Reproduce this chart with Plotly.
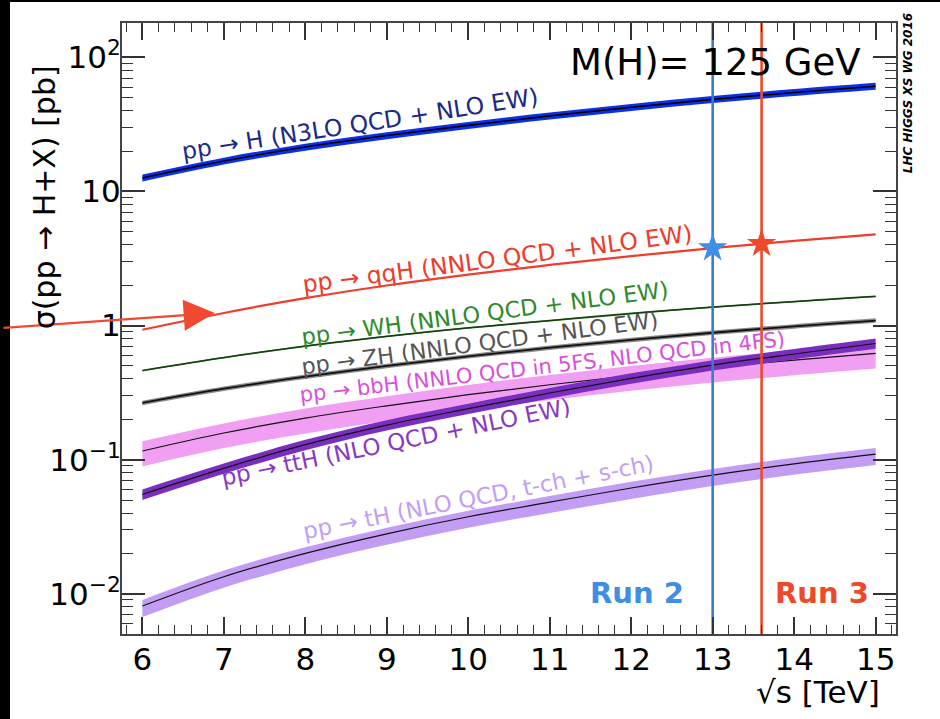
import plotly.graph_objects as go

# ---------------- data ----------------
sqrt_s = [6, 7, 8, 9, 10, 11, 12, 13, 14, 15]

ggH    = [12.6, 16.85, 21.42, 26.1, 31.1, 36.6, 42.4, 48.58, 54.67, 60.9]
ggH_lo = [11.85, 15.85, 20.15, 24.55, 29.25, 34.4, 39.85, 45.65, 51.4, 57.25]
ggH_hi = [13.35, 17.85, 22.70, 27.65, 32.95, 38.8, 44.95, 51.5, 57.95, 64.55]

qqH = [0.93, 1.241, 1.601, 1.99, 2.40, 2.83, 3.29, 3.782, 4.278, 4.79]

WH    = [0.462, 0.577, 0.703, 0.83, 0.96, 1.09, 1.23, 1.373, 1.51, 1.65]
WH_lo = [0.455, 0.568, 0.692, 0.817, 0.945, 1.073, 1.211, 1.352, 1.487, 1.625]
WH_hi = [0.469, 0.586, 0.714, 0.843, 0.975, 1.107, 1.249, 1.394, 1.533, 1.675]

ZH    = [0.265, 0.3381, 0.4153, 0.50, 0.59, 0.685, 0.782, 0.8839, 0.9861, 1.09]
ZH_lo = [0.255, 0.325, 0.399, 0.480, 0.567, 0.658, 0.751, 0.849, 0.947, 1.047]
ZH_hi = [0.275, 0.351, 0.431, 0.519, 0.612, 0.711, 0.812, 0.918, 1.024, 1.132]

bbH    = [0.116, 0.158, 0.204, 0.252, 0.305, 0.362, 0.423, 0.488, 0.553, 0.62]
bbH_lo = [0.089, 0.122, 0.157, 0.194, 0.235, 0.279, 0.326, 0.376, 0.426, 0.478]
bbH_hi = [0.137, 0.186, 0.241, 0.297, 0.360, 0.427, 0.499, 0.576, 0.652, 0.730]

ttH    = [0.055, 0.0861, 0.1293, 0.181, 0.240, 0.314, 0.404, 0.5071, 0.6137, 0.735]
ttH_lo = [0.050, 0.0784, 0.1177, 0.165, 0.219, 0.286, 0.368, 0.462, 0.559, 0.670]
ttH_hi = [0.060, 0.0935, 0.1405, 0.197, 0.261, 0.342, 0.440, 0.552, 0.668, 0.800]

tH    = [0.0081, 0.0134, 0.0200, 0.0280, 0.0375, 0.0482, 0.0615, 0.0767, 0.0930, 0.110]
tH_lo = [0.0067, 0.0111, 0.0166, 0.0232, 0.0311, 0.0400, 0.0510, 0.0637, 0.0772, 0.0913]
tH_hi = [0.0090, 0.0149, 0.0222, 0.0311, 0.0416, 0.0535, 0.0683, 0.0851, 0.1032, 0.1220]

run_energies = [13.0, 13.6]
run_qqH = [3.782, 4.08]
run_names = ["Run 2", "Run 3"]
run_label_x = [12.07, 14.34]
run_colors = ["#3d8ee4", "#ee4a2a"]
run_line_colors = ["#3a7bcc", "#ee4a2a"]

y_tickvals = [0.01, 0.1, 1, 10, 100]
y_ticktext = ["10<sup>\u22122</sup>", "10<sup>\u22121</sup>", "1", "10", "10<sup>2</sup>"]

x_range = [5.75, 15.25]
y_range_log = [-2.30, 2.256]

# text, x, log10(y), angle, colour, font size
labels = [
    ("pp \u2192 H (N3LO QCD + NLO EW)", 8.671, 1.503, -8.8, "#1a2a88", 23.5),
    ("pp \u2192 qqH (NNLO QCD + NLO EW)", 10.353, 0.496, -7.5, "#ee3b2b", 23.5),
    ("pp \u2192 WH (NNLO QCD + NLO EW)", 10.206, 0.093, -7.4, "#2e8a2a", 22.5),
    ("pp \u2192 ZH (NNLO QCD + NLO EW)", 10.144, -0.130, -7.5, "#555555", 22.3),
    ("pp \u2192 bbH (NNLO QCD in 5FS, NLO QCD in 4FS)", 10.905, -0.309, -6.6, "#d94fdc", 21),
    ("pp \u2192 ttH (NLO QCD + NLO EW)", 9.113, -0.869, -11.6, "#8a38c4", 23),
    ("pp \u2192 tH (NLO QCD, t-ch + s-ch)", 10.120, -1.279, -11.1, "#c49ef4", 22.7),
]

FONT = "DejaVu Sans"

# ---------------- figure ----------------
fig = go.Figure()


def band(lo, hi, color):
    fig.add_trace(go.Scatter(x=sqrt_s, y=lo, mode="lines", line=dict(width=0, shape="spline", color=color),
                             showlegend=False, hoverinfo="skip"))
    fig.add_trace(go.Scatter(x=sqrt_s, y=hi, mode="lines", line=dict(width=0, shape="spline", color=color),
                             fill="tonexty", fillcolor=color, showlegend=False, hoverinfo="skip"))


def line(y, color, width):
    fig.add_trace(go.Scatter(x=sqrt_s, y=y, mode="lines", line=dict(width=width, shape="spline", color=color),
                             showlegend=False, hoverinfo="skip"))


band(tH_lo, tH_hi, "#c39cf3")
line(tH, "#111111", 1.2)
band(bbH_lo, bbH_hi, "#f09ff2")
line(bbH, "#111111", 1.2)
band(ttH_lo, ttH_hi, "#7a2ec0")
line(ttH, "#111111", 1.2)
band(ZH_lo, ZH_hi, "#8a8a8a")
line(ZH, "#111111", 1.8)
band(WH_lo, WH_hi, "#2d6a22")
line(WH, "#143d10", 1.2)
line(qqH, "#f03c2c", 2.2)
band(ggH_lo, ggH_hi, "#0a30ea")
line(ggH, "#000000", 1.6)

# vertical run lines
y_lo_val = 10 ** y_range_log[0]
y_hi_val = 10 ** y_range_log[1]
for e, c in zip(run_energies, run_line_colors):
    fig.add_trace(go.Scatter(x=[e, e], y=[y_lo_val, y_hi_val], mode="lines",
                             line=dict(color=c, width=2.6), showlegend=False, hoverinfo="skip"))

# stars
for e, v, c in zip(run_energies, run_qqH, run_colors):
    fig.add_trace(go.Scatter(x=[e], y=[v], mode="markers",
                             marker=dict(symbol="star", size=22, color=c, line=dict(width=0)),
                             showlegend=False, hoverinfo="skip", cliponaxis=False))

# curve labels
for text, lx, ly, ang, col, fs in labels:
    fig.add_annotation(x=lx, y=ly, xref="x", yref="y", text=text, showarrow=False,
                       textangle=ang, font=dict(family=FONT, size=fs, color=col),
                       xanchor="center", yanchor="middle")

# run labels
for name, col, xpos in zip(run_names, run_colors, run_label_x):
    fig.add_annotation(x=xpos, y=-1.995, xref="x", yref="y", text="<b>" + name + "</b>",
                       showarrow=False, font=dict(family=FONT, size=29, color=col),
                       xanchor="center", yanchor="middle")

# red arrow entering from the left
fig.add_annotation(x=6.89, y=0.093, xref="x", yref="y", ax=-215, ay=15, axref="pixel", ayref="pixel",
                   text=" ", showarrow=True, arrowhead=2, arrowsize=2.6, arrowwidth=2.4,
                   arrowcolor="#ef4a30", standoff=0)

# M(H) text
fig.add_annotation(x=0.767, y=0.936, xref="paper", yref="paper", text="M(H)= 125 GeV",
                   showarrow=False, font=dict(family=FONT, size=37, color="#000000"),
                   xanchor="center", yanchor="middle")

# LHC HIGGS XS WG 2016
fig.add_annotation(x=1.0155, y=0.885, xref="paper", yref="paper", text="<b><i>LHC HIGGS XS WG 2016</i></b>",
                   showarrow=False, textangle=-90, font=dict(family=FONT, size=12, color="#000000"),
                   xanchor="center", yanchor="middle")

# axis titles
fig.add_annotation(x=0.982, y=-0.095, xref="paper", yref="paper", text="\u221As [TeV]",
                   showarrow=False, font=dict(family=FONT, size=31, color="#000000"),
                   xanchor="right", yanchor="middle")
fig.add_annotation(x=-0.100, y=0.714, xref="paper", yref="paper", text="\u03c3(pp \u2192 H+X) [pb]",
                   showarrow=False, textangle=-90, font=dict(family=FONT, size=30, color="#000000"),
                   xanchor="center", yanchor="middle")

# black frame strips at left and top edges of the picture
L, R, T, B = 122, 44, 23, 85
W, H = 940, 719
pw, ph = W - L - R, H - T - B
fig.add_shape(type="rect", xref="paper", yref="paper", x0=-L / pw, x1=(10 - L) / pw,
              y0=-B / ph, y1=(H - B) / ph, fillcolor="#000000", line=dict(width=0), layer="above")
fig.add_shape(type="rect", xref="paper", yref="paper", x0=-L / pw, x1=(W - L) / pw,
              y0=(H - B - 2) / ph, y1=(H - B) / ph, fillcolor="#000000", line=dict(width=0), layer="above")

minor_y = [m * 10 ** d for d in range(-3, 3) for m in range(2, 10)]

fig.update_layout(
    width=W, height=H, autosize=False,
    margin=dict(l=L, r=R, t=T, b=B),
    paper_bgcolor="white", plot_bgcolor="white",
    font=dict(family=FONT, color="#000000"),
    showlegend=False,
    xaxis=dict(range=x_range, tickmode="linear", tick0=6, dtick=1,
               ticks="inside", ticklen=17, tickwidth=1.5, tickcolor="#333333",
               minor=dict(ticks="inside", ticklen=9, dtick=0.2, tick0=6, tickwidth=1.3, tickcolor="#333333"),
               showline=True, linecolor="#444444", linewidth=2, mirror="ticks",
               showgrid=False, zeroline=False,
               tickfont=dict(family=FONT, size=31, color="#000000"), ticklabelstandoff=-3),
    yaxis=dict(type="log", range=y_range_log, tickmode="array", tickvals=y_tickvals, ticktext=y_ticktext,
               ticks="inside", ticklen=23, tickwidth=1.5, tickcolor="#333333",
               minor=dict(ticks="inside", ticklen=11, tickvals=minor_y, tickwidth=1.3, tickcolor="#333333"),
               showline=True, linecolor="#444444", linewidth=2, mirror="ticks",
               showgrid=False, zeroline=False,
               tickfont=dict(family=FONT, size=31, color="#000000"), ticklabelstandoff=-7),
)

fig.write_html("out.html", config={"displayModeBar": False},
               post_script="document.body.style.margin='0px';document.body.style.overflow='hidden';")
